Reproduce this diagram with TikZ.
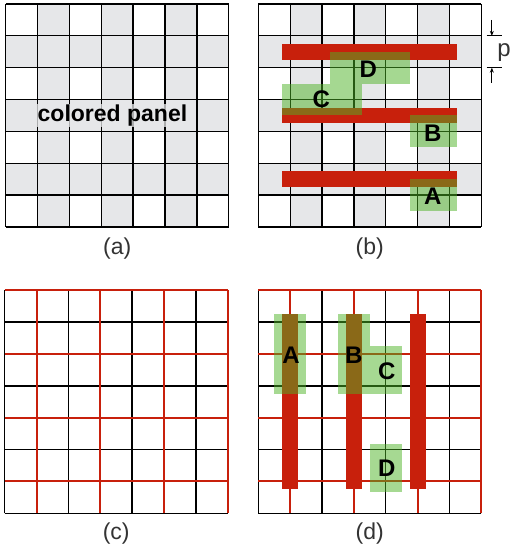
\documentclass[tikz,border=0pt]{standalone}
\usepackage{fontspec}
\setmainfont{Liberation Sans}
\usetikzlibrary{arrows.meta, positioning}
\definecolor{panelgray}{RGB}{230,231,233}
\definecolor{barred}{RGB}{200,32,12}
\definecolor{boxgreen}{RGB}{77,179,37}
\tikzset{
  gridline/.style={black, line width=1.3pt},
  redline/.style={barred, line width=2pt},
  bar/.style={fill=barred, draw=none},
  greenbox/.style={fill=boxgreen, fill opacity=0.5, draw=none},
  boxlabel/.style={font=\fontsize{24}{24}\selectfont\bfseries, inner sep=0pt},
  panellabel/.style={font=\fontsize{23}{23}\selectfont\bfseries, fill=panelgray,
    fill opacity=0.75, text opacity=1, inner xsep=2pt, inner ysep=1pt},
  caption/.style={font=\fontsize{23}{23}\selectfont, text=black!80, inner sep=0pt},
  dimarrow/.style={-{Stealth[length=5pt,width=4pt]}, line width=0.8pt},
}
\newcommand{\cellgrid}{%
  \foreach \k in {0,...,7} {
    \draw[gridline] (\k,0) -- (\k,7);
    \draw[gridline] (0,\k) -- (7,\k);
  }}

\begin{document}
\begin{tikzpicture}[x=1pt, y=1pt]
  \useasboundingbox (0,0) rectangle (511,555);

  % (a) checkered panel
  \begin{scope}[shift={(5.7pt,328pt)}, x=31.86pt, y=31.86pt]
    \fill[panelgray] (0,0) rectangle (7,7);
    \foreach \i in {0,2,4,6}
      \foreach \j in {0,2,4,6}
        \fill[white] (\i,\j) rectangle ++(1,1);
    \cellgrid
    \node[panellabel] (colpanel) at (3.35,3.5) {colored panel};
  \end{scope}

  % (b) row bars
  \begin{scope}[shift={(258.3pt,328pt)}, x=31.86pt, y=31.86pt]
    \fill[panelgray] (0,0) rectangle (7,7);
    \foreach \i in {0,2,4,6}
      \foreach \j in {0,2,4,6}
        \fill[white] (\i,\j) rectangle ++(1,1);
    \cellgrid
    \foreach \y in {1.5,3.5,5.5}
      \fill[bar] (0.75,\y-0.25) rectangle (6.25,\y+0.25);
    \fill[greenbox] (2.25,4.5) rectangle (4.75,5.5);
    \fill[greenbox] (0.75,3.5) rectangle (3.25,4.5);
    \fill[greenbox] (4.75,2.5) rectangle (6.25,3.5);
    \fill[greenbox] (4.75,0.5) rectangle (6.25,1.5);
    \node[boxlabel] (bD) at (3.45,4.95) {D};
    \node[boxlabel] (bC) at (1.98,4.02) {C};
    \node[boxlabel] (bB) at (5.48,2.95) {B};
    \node[boxlabel] (bA) at (5.48,0.95) {A};
    % pitch p
    \coordinate (ptop) at (7.33,6);
    \coordinate (pbot) at (7.33,5);
    \draw[line width=0.8pt] (7.17,6) -- (7.64,6);
    \draw[line width=0.8pt] (7.17,5) -- (7.64,5);
    \draw[dimarrow] (7.33,6.5) -- (ptop);
    \draw[dimarrow] (7.33,4.52) -- (pbot);
    \node[font=\fontsize{24}{24}\selectfont, text=black!80, anchor=base west,
      inner sep=0pt] (plabel) at (7.5,5.35) {p};
  \end{scope}

  % (c) red sub-grid
  \begin{scope}[shift={(4.7pt,41.7pt)}, x=31.86pt, y=31.86pt]
    \cellgrid
    \foreach \k in {1,3,5,7} {
      \draw[redline] (\k,0) -- (\k,7);
      \draw[redline] (0,\k) -- (7,\k);
    }
  \end{scope}

  % (d) column bars
  \begin{scope}[shift={(258.3pt,41.7pt)}, x=31.86pt, y=31.86pt]
    \cellgrid
    \foreach \k in {1,3,5,7} {
      \draw[redline] (\k,0) -- (\k,7);
      \draw[redline] (0,\k) -- (7,\k);
    }
    \foreach \x in {1,3,5}
      \fill[bar] (\x-0.25,0.75) rectangle (\x+0.25,6.25);
    \fill[greenbox] (0.5,3.75) rectangle (1.5,6.25);
    \fill[greenbox] (2.5,3.75) rectangle (3.5,6.25);
    \fill[greenbox] (3.5,3.75) rectangle (4.5,5.25);
    \fill[greenbox] (3.5,0.68) rectangle (4.5,2.18);
    \node[boxlabel] (dA) at (1.03,4.95) {A};
    \node[boxlabel] (dB) at (3.0,4.97) {B};
    \node[boxlabel] (dC) at (4.03,4.45) {C};
    \node[boxlabel] (dD) at (4.03,1.42) {D};
  \end{scope}

  % captions
  \node[caption] (capa) at (117.2,306) {(a)};
  \node[caption] (capb) at (369.8,306) {(b)};
  \node[caption] (capc) at (116.2,21) {(c)};
  \node[caption] (capd) at (369.8,21) {(d)};
\end{tikzpicture}
\end{document}
